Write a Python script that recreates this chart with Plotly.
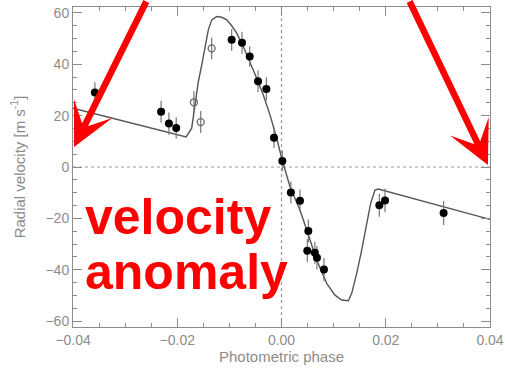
import plotly.graph_objects as go

# Radial velocity measurements (filled = in/out of transit, open = other set)
phase_filled = [-0.0358, -0.0231, -0.0216, -0.0202, -0.00956, -0.00758, -0.0061,
                -0.0045, -0.0029, -0.00144, 0.00016, 0.0018, 0.00355, 0.00515,
                0.00495, 0.0064, 0.0068, 0.00815, 0.01877, 0.01986, 0.0311]
rv_filled = [29.0, 21.5, 16.9, 15.2, 49.5, 48.4, 43.0,
             33.4, 30.4, 11.4, 2.3, -9.9, -13.1, -24.9,
             -32.6, -33.4, -35.3, -39.9, -14.9, -13.0, -17.9]
err_filled = [4.0, 4.3, 4.3, 4.2, 4.2, 4.3, 4.0,
              4.3, 4.5, 4.0, 4.0, 4.3, 4.3, 4.5,
              4.5, 4.3, 4.6, 4.5, 4.5, 4.6, 4.7]

phase_open = [-0.0168, -0.0155, -0.0134]
rv_open = [25.2, 17.5, 46.2]
err_open = [4.3, 4.3, 4.2]

# Model curve (Rossiter-McLaughlin fit)
model_phase = [-0.04, -0.0183, -0.01723, -0.0166, -0.01596, -0.01531, -0.01468,
               -0.01404, -0.01339, -0.01243, -0.01147, -0.01051, -0.00955,
               -0.0086, -0.00733, -0.00604, -0.00476, -0.00349, -0.00221,
               -0.00092, 0.00004, 0.00163, 0.00355, 0.00484, 0.00675, 0.00867,
               0.01026, 0.01155, 0.01282, 0.01347, 0.01443, 0.01539, 0.01635,
               0.01711, 0.01794, 0.01857, 0.04]
model_rv = [22.9, 11.7, 15.1, 24.2, 33.2, 39.7, 46.2,
            53.4, 57.3, 58.6, 58.3, 57.3, 55.0,
            52.1, 46.9, 41.0, 34.6, 28.0, 20.3,
            11.2, 3.4, -7.7, -16.8, -24.5, -36.2, -45.3,
            -49.9, -51.8, -52.1, -49.2, -41.4, -32.3, -21.9,
            -14.1, -9.0, -8.6, -20.4]

x_ticks = [-0.04, -0.02, 0.0, 0.02, 0.04]
x_ticklabels = ["\u22120.04", "\u22120.02", "0.00", "0.02", "0.04"]
y_ticks = [-60, -40, -20, 0, 20, 40, 60]
y_ticklabels = ["\u221260", "\u221240", "\u221220", "0", "20", "40", "60"]

grey = "#8c8c8c"
font_family = "Liberation Sans, Arial, sans-serif"

fig = go.Figure()

fig.add_trace(go.Scatter(
    x=model_phase, y=model_rv, mode="lines",
    line=dict(color="#555555", width=1.4),
    hoverinfo="skip", showlegend=False))

fig.add_trace(go.Scatter(
    x=phase_open, y=rv_open, mode="markers",
    error_y=dict(type="data", array=err_open, color="#777777", thickness=1.2, width=0),
    marker=dict(symbol="circle-open", size=7, color="#666666", line=dict(width=1.3)),
    showlegend=False))

fig.add_trace(go.Scatter(
    x=phase_filled, y=rv_filled, mode="markers",
    error_y=dict(type="data", array=err_filled, color="#777777", thickness=1.2, width=0),
    marker=dict(symbol="circle", size=8, color="black"),
    showlegend=False))

# dotted reference lines at zero
fig.add_shape(type="line", xref="x", yref="paper", x0=0, x1=0, y0=0, y1=1,
              line=dict(color="#9a9a9a", width=1.2, dash="dot"), layer="below")
fig.add_shape(type="line", xref="paper", yref="y", x0=0, x1=1, y0=0, y1=0,
              line=dict(color="#9a9a9a", width=1.2, dash="dot"), layer="below")

# red annotation text
fig.add_annotation(text="<b>velocity</b>", xref="paper", yref="paper",
                   x=0.024, y=0.344, xanchor="left", yanchor="middle", showarrow=False,
                   font=dict(family=font_family, size=50, color="#ff0000"))
fig.add_annotation(text="<b>anomaly</b>", xref="paper", yref="paper",
                   x=0.024, y=0.172, xanchor="left", yanchor="middle", showarrow=False,
                   font=dict(family=font_family, size=50, color="#ff0000"))

# red arrows
fig.add_annotation(text="", x=-0.0398, y=7.8, xref="x", yref="y",
                   ax=73, ay=-150, showarrow=True, arrowhead=3, arrowsize=1.1,
                   arrowwidth=6.5, arrowcolor="#ff0000", standoff=0)
fig.add_annotation(text="", x=0.0396, y=0.8, xref="x", yref="y",
                   ax=-79, ay=-168, showarrow=True, arrowhead=3, arrowsize=1.1,
                   arrowwidth=6.5, arrowcolor="#ff0000", standoff=0)

axis_common = dict(
    showgrid=False, zeroline=False, showline=True, linecolor=grey, linewidth=1,
    mirror="allticks", ticks="inside", ticklen=9, tickcolor=grey, tickwidth=1,
    tickfont=dict(family=font_family, size=14, color=grey), automargin=False,
)

fig.update_xaxes(
    range=[-0.04, 0.04], tickvals=x_ticks, ticktext=x_ticklabels,
    minor=dict(dtick=0.005, ticks="inside", ticklen=4, tickcolor=grey, showgrid=False),
    title=dict(text="Photometric phase", font=dict(family=font_family, size=15, color=grey),
               standoff=2),
    **axis_common)
fig.update_yaxes(
    range=[-62.3, 62.3], tickvals=y_ticks, ticktext=y_ticklabels,
    minor=dict(dtick=5, ticks="inside", ticklen=4, tickcolor=grey, showgrid=False),
    title=dict(text="Radial velocity [m s<sup>-1</sup>]",
               font=dict(family=font_family, size=15, color=grey), standoff=16),
    **axis_common)

fig.update_layout(
    width=505, height=376,
    margin=dict(l=73, r=15, t=7, b=49, autoexpand=False),
    plot_bgcolor="white", paper_bgcolor="white",
)

# remove the default page margin so the figure sits at the window's corner
fig.write_html("out.html",
               config={"displayModeBar": False},
               post_script="document.body.style.margin='0px';document.body.style.overflow='hidden';")
